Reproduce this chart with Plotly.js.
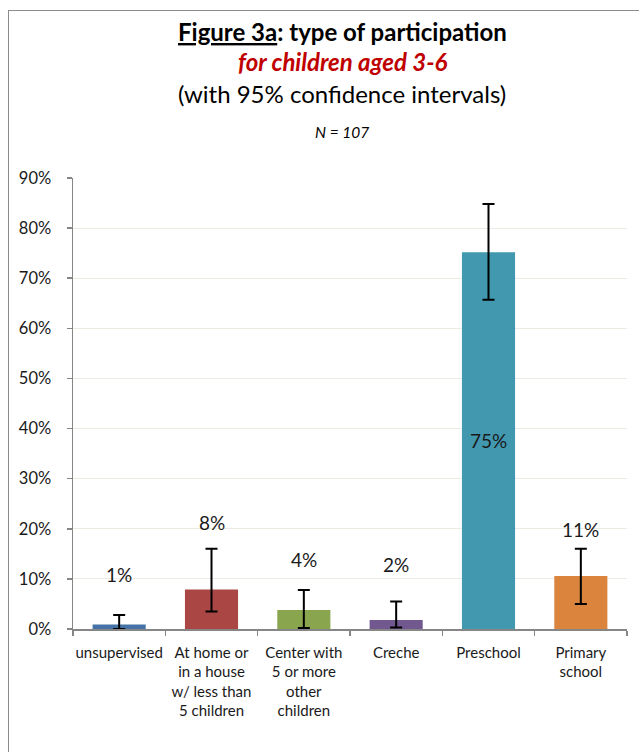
<!DOCTYPE html>
<html>
<head>
<meta charset="utf-8">
<script src="https://cdn.plot.ly/plotly-3.0.1.min.js"></script>
<style>
  html, body { margin:0; padding:0; background:#fff; overflow:hidden; }
  #wrap { position:relative; width:639px; height:752px; }
  #frame { position:absolute; left:8px; top:10px; width:700px; height:800px; border:1.5px solid #8c8c8c; box-sizing:border-box; pointer-events:none; }
  #chart { position:absolute; left:0; top:0; width:639px; height:752px; }
</style>
</head>
<body>
<div id="wrap">
  <div id="chart"></div>
  <div id="frame"></div>
</div>
<script>
// ---- data ----
const categories = ["unsupervised", "At home or<br>in a house<br>w/ less than<br>5 children", "Center with<br>5 or more<br>other<br>children", "Creche", "Preschool", "Primary<br>school"];
const shares = [0.009, 0.079, 0.038, 0.018, 0.752, 0.106];
const ciUpper = [0.028, 0.160, 0.078, 0.055, 0.848, 0.160];
const ciLower = [0.000, 0.035, 0.002, 0.003, 0.657, 0.050];
const yTickVals = [0, 0.1, 0.2, 0.3, 0.4, 0.5, 0.6, 0.7, 0.8, 0.9];
const yTickText = ["0%", "10%", "20%", "30%", "40%", "50%", "60%", "70%", "80%", "90%"];

// ---- style / layout constants ----
const barColors = ["#4572A7", "#AA4643", "#89A54E", "#71588F", "#4198AF", "#DB843D"];
const labelY = [0.108, 0.212, 0.138, 0.128, null, 0.198]; // label placement (null = middle of bar)
const FONT = "Lato, 'Open Sans', sans-serif";

const trace = {
  type: "bar",
  x: categories,
  y: shares,
  marker: { color: barColors, line: { width: 0 } },
  width: 0.575,
  error_y: {
    type: "data",
    symmetric: false,
    array: shares.map((v, i) => ciUpper[i] - v),
    arrayminus: shares.map((v, i) => v - ciLower[i]),
    color: "#000",
    thickness: 2,
    width: 6
  },
  hoverinfo: "none"
};

const annotations = shares.map((v, i) => ({
  x: categories[i],
  y: labelY[i] === null ? v / 2 : labelY[i],
  xref: "x", yref: "y",
  text: Math.round(v * 100) + "%",
  showarrow: false,
  font: { family: FONT, size: 19, color: "#1a1a1a" },
  xanchor: "center", yanchor: "middle"
}));

const plotTop = 178, plotBottom = 629, plotH = plotBottom - plotTop;
function py(p) { return (plotBottom - p) / plotH; }

annotations.push(
  { xref: "paper", yref: "paper", x: 0.486, y: py(31), showarrow: false, xanchor: "center", yanchor: "middle",
    text: "<b><u>Figure 3a</u>: type of participation</b>", font: { family: FONT, size: 24, color: "#000" } },
  { xref: "paper", yref: "paper", x: 0.486, y: py(62), showarrow: false, xanchor: "center", yanchor: "middle",
    text: "<b><i>for children aged 3-6</i></b>", font: { family: FONT, size: 24, color: "#C00000" } },
  { xref: "paper", yref: "paper", x: 0.486, y: py(94), showarrow: false, xanchor: "center", yanchor: "middle",
    text: "(with 95% confidence intervals)", font: { family: FONT, size: 24, color: "#000" } },
  { xref: "paper", yref: "paper", x: 0.486, y: py(132), showarrow: false, xanchor: "center", yanchor: "middle",
    text: "<i>N = 107</i>", font: { family: FONT, size: 15.5, color: "#000" } }
);

const layout = {
  width: 639, height: 752,
  margin: { l: 72.5, r: 12.3, t: plotTop, b: 752 - plotBottom, pad: 0 },
  paper_bgcolor: "#fff", plot_bgcolor: "#fff",
  showlegend: false,
  bargap: 0.425,
  xaxis: {
    type: "category",
    showline: true, linecolor: "#868686", linewidth: 1.5,
    ticks: "outside", tickson: "boundaries", ticklen: 5, tickcolor: "#868686", tickwidth: 1.5,
    showgrid: false, zeroline: false,
    tickangle: 0,
    tickfont: { family: FONT, size: 15, color: "#1a1a1a" },
    ticklabelstandoff: 9,
    fixedrange: true
  },
  yaxis: {
    range: [0, 0.9],
    tickvals: yTickVals, ticktext: yTickText,
    showline: true, linecolor: "#868686", linewidth: 1.5,
    ticks: "outside", ticklen: 5, tickcolor: "#868686", tickwidth: 1.5,
    showgrid: true, gridcolor: "#ebebe3", gridwidth: 1.2,
    zeroline: false,
    tickfont: { family: FONT, size: 16.5, color: "#1a1a1a" },
    ticklabelstandoff: 12,
    fixedrange: true
  },
  annotations: annotations
};

Plotly.newPlot("chart", [trace], layout, { staticPlot: true, displayModeBar: false });
</script>
</body>
</html>
